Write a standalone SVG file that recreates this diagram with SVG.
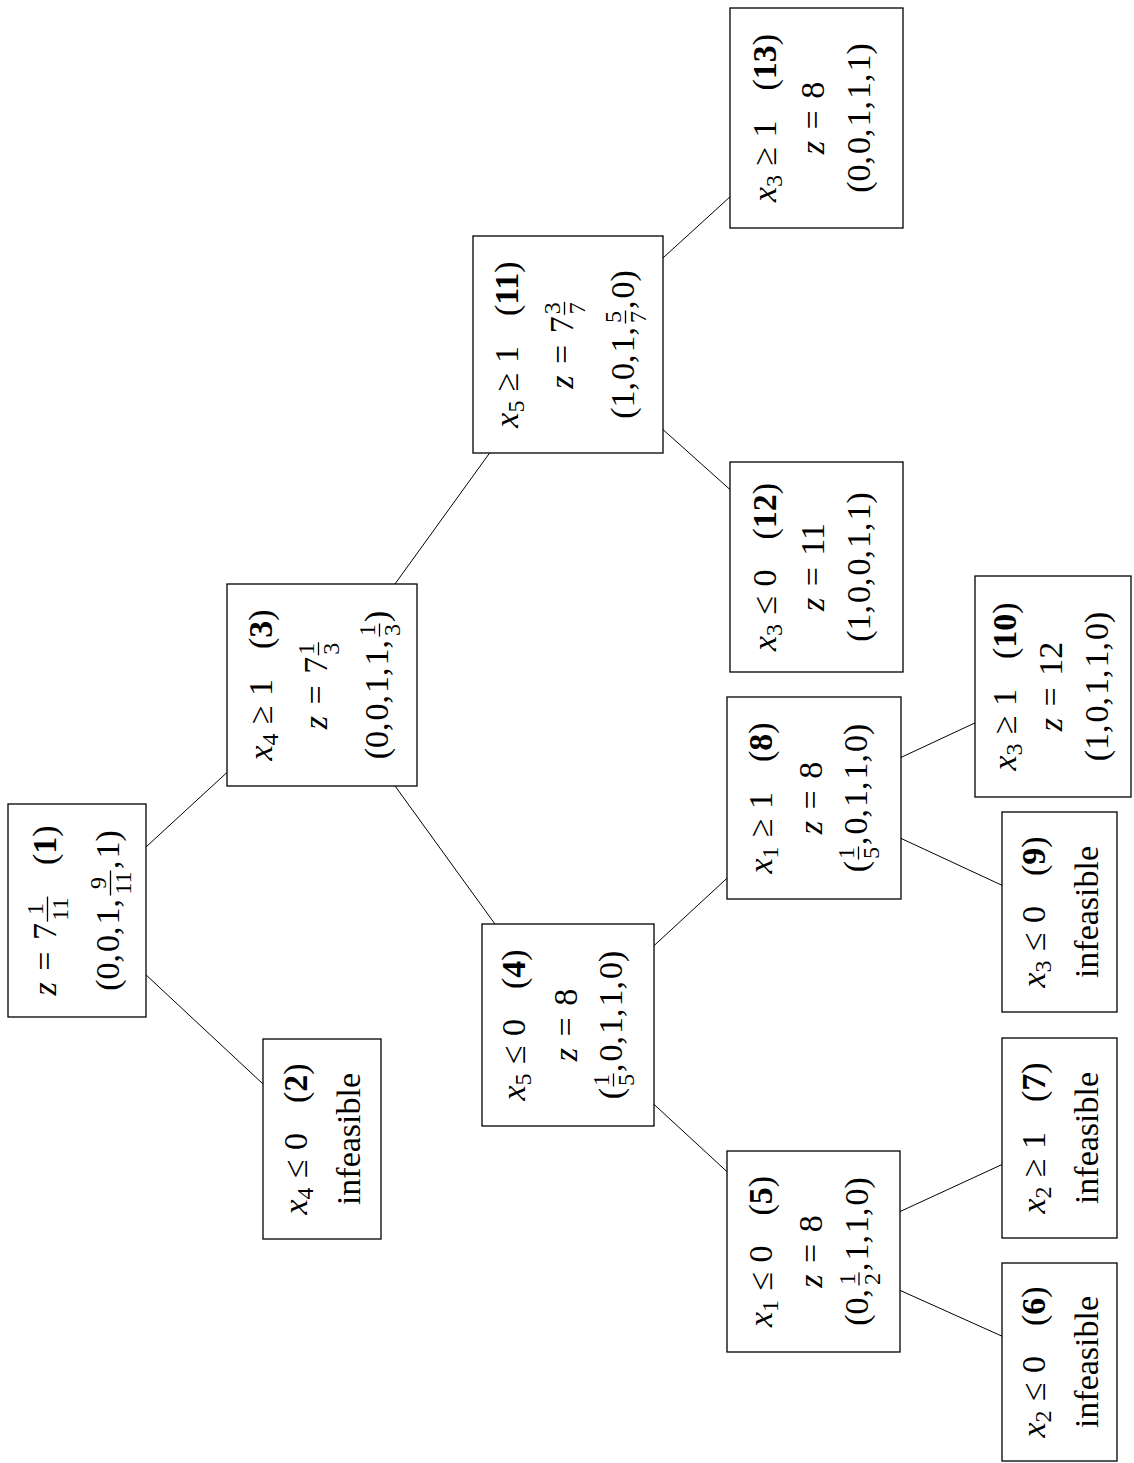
<svg xmlns="http://www.w3.org/2000/svg" width="1134" height="1463" viewBox="0 0 1134 1463">
<style>
.bx{fill:#fff;stroke:#000;stroke-width:1.3}
.cn line{stroke:#000;stroke-width:1}
.t{font-family:"Liberation Serif","Times New Roman",serif;font-size:34px;fill:#000}
.c{text-anchor:middle}
.i{font-style:italic}
.b{font-weight:bold}
.s{font-size:24px}
.fb{stroke:#000;stroke-width:1.3}
</style>
<rect width="1134" height="1463" fill="#fff"/>
<g id="connectors" class="cn">
<line x1="77" y1="910.5" x2="322" y2="1139"/>
<line x1="77" y1="910.5" x2="322" y2="685"/>
<line x1="322" y1="685" x2="568" y2="1025"/>
<line x1="322" y1="685" x2="568" y2="344.5"/>
<line x1="568" y1="1025" x2="813.5" y2="1251.5"/>
<line x1="568" y1="1025" x2="814" y2="798"/>
<line x1="813.5" y1="1251.5" x2="1059.5" y2="1362"/>
<line x1="813.5" y1="1251.5" x2="1059.5" y2="1138"/>
<line x1="814" y1="798" x2="1059.5" y2="912"/>
<line x1="814" y1="798" x2="1053" y2="686.5"/>
<line x1="568" y1="344.5" x2="816.5" y2="567"/>
<line x1="568" y1="344.5" x2="816.5" y2="118"/>
</g>

<g id="node1">
<rect class="bx" x="8" y="804" width="138" height="213"/>
<g transform="translate(77 910.5) rotate(-90)">
<text class="t" x="-85" y="-21"><tspan class="i">z</tspan><tspan dx="11.5">=</tspan><tspan dx="11.5">7</tspan></text>
<text class="t s c" x="1.4" y="-34">1</text><text class="t s c" x="1.4" y="-9">11</text>
<line class="fb" x1="-11.1" y1="-29.5" x2="13.9" y2="-29.5"/>
<text class="t" x="45.4" y="-21">(<tspan class="b">1</tspan>)</text>
<text class="t" x="-80.3" y="42">(0,<tspan dx="2">0,</tspan><tspan dx="2">1,</tspan></text>
<text class="t s c" x="27.5" y="29">9</text><text class="t s c" x="27.5" y="54">11</text>
<line class="fb" x1="15" y1="33.5" x2="40" y2="33.5"/>
<text class="t" x="41.5" y="42">,<tspan dx="2">1)</tspan></text>
</g>
</g>

<g id="node2">
<rect class="bx" x="263" y="1039" width="118" height="200"/>
<g transform="translate(322 1139) rotate(-90)">
<text class="t c" x="0" y="-15"><tspan class="i">x</tspan><tspan class="s" dy="6">4</tspan><tspan dx="9.4" dy="-6">≤</tspan><tspan dx="9.4">0</tspan><tspan dx="30">(</tspan><tspan class="b">2</tspan>)</text>
<text class="t c" x="0" y="38">infeasible</text>
</g>
</g>

<g id="node3">
<rect class="bx" x="227" y="584" width="190" height="202"/>
<g transform="translate(322 685) rotate(-90)">
<text class="t c" x="0" y="-50"><tspan class="i">x</tspan><tspan class="s" dy="6">4</tspan><tspan dx="9.4" dy="-6">≥</tspan><tspan dx="9.4">1</tspan><tspan dx="30">(</tspan><tspan class="b">3</tspan>)</text>
<text class="t" x="-44.2" y="5"><tspan class="i">z</tspan><tspan dx="11.5">=</tspan><tspan dx="11.5">7</tspan></text>
<text class="t s c" x="36.2" y="-8">1</text><text class="t s c" x="36.2" y="17">3</text>
<line class="fb" x1="29.7" y1="-3.5" x2="42.7" y2="-3.5"/>
<text class="t" x="-74.3" y="66">(0,<tspan dx="2">0,</tspan><tspan dx="2">1,</tspan><tspan dx="2">1,</tspan></text>
<text class="t s c" x="55" y="53">1</text><text class="t s c" x="55" y="78">3</text>
<line class="fb" x1="48.5" y1="57.5" x2="61.5" y2="57.5"/>
<text class="t" x="63" y="66">)</text>
</g>
</g>

<g id="node4">
<rect class="bx" x="482" y="924" width="172" height="202"/>
<g transform="translate(568 1025) rotate(-90)">
<text class="t c" x="0" y="-43"><tspan class="i">x</tspan><tspan class="s" dy="6">5</tspan><tspan dx="9.4" dy="-6">≤</tspan><tspan dx="9.4">0</tspan><tspan dx="30">(</tspan><tspan class="b">4</tspan>)</text>
<text class="t c" x="0" y="9"><tspan class="i">z</tspan><tspan dx="11.5">=</tspan><tspan dx="11.5">8</tspan></text>
<text class="t" x="-74.3" y="54">(</text>
<text class="t s c" x="-55" y="41">1</text><text class="t s c" x="-55" y="66">5</text>
<line class="fb" x1="-61.5" y1="45.5" x2="-48.5" y2="45.5"/>
<text class="t" x="-47" y="54">,<tspan dx="2">0,</tspan><tspan dx="2">1,</tspan><tspan dx="2">1,</tspan><tspan dx="2">0)</tspan></text>
</g>
</g>

<g id="node5">
<rect class="bx" x="727" y="1151" width="173" height="201"/>
<g transform="translate(813.5 1251.5) rotate(-90)">
<text class="t c" x="0" y="-42"><tspan class="i">x</tspan><tspan class="s" dy="6">1</tspan><tspan dx="9.4" dy="-6">≤</tspan><tspan dx="9.4">0</tspan><tspan dx="30">(</tspan><tspan class="b">5</tspan>)</text>
<text class="t c" x="0" y="8"><tspan class="i">z</tspan><tspan dx="11.5">=</tspan><tspan dx="11.5">8</tspan></text>
<text class="t" x="-74.3" y="54">(0,</text>
<text class="t s c" x="-27.5" y="41">1</text><text class="t s c" x="-27.5" y="66">2</text>
<line class="fb" x1="-34" y1="45.5" x2="-21" y2="45.5"/>
<text class="t" x="-19.5" y="54">,<tspan dx="2">1,</tspan><tspan dx="2">1,</tspan><tspan dx="2">0)</tspan></text>
</g>
</g>

<g id="node6">
<rect class="bx" x="1002" y="1263" width="115" height="198"/>
<g transform="translate(1059.5 1362) rotate(-90)">
<text class="t c" x="0" y="-15"><tspan class="i">x</tspan><tspan class="s" dy="6">2</tspan><tspan dx="9.4" dy="-6">≤</tspan><tspan dx="9.4">0</tspan><tspan dx="30">(</tspan><tspan class="b">6</tspan>)</text>
<text class="t c" x="0" y="38">infeasible</text>
</g>
</g>

<g id="node7">
<rect class="bx" x="1002" y="1038" width="115" height="200"/>
<g transform="translate(1059.5 1138) rotate(-90)">
<text class="t c" x="0" y="-15"><tspan class="i">x</tspan><tspan class="s" dy="6">2</tspan><tspan dx="9.4" dy="-6">≥</tspan><tspan dx="9.4">1</tspan><tspan dx="30">(</tspan><tspan class="b">7</tspan>)</text>
<text class="t c" x="0" y="38">infeasible</text>
</g>
</g>

<g id="node8">
<rect class="bx" x="727" y="697" width="174" height="202"/>
<g transform="translate(814 798) rotate(-90)">
<text class="t c" x="0" y="-42"><tspan class="i">x</tspan><tspan class="s" dy="6">1</tspan><tspan dx="9.4" dy="-6">≥</tspan><tspan dx="9.4">1</tspan><tspan dx="30">(</tspan><tspan class="b">8</tspan>)</text>
<text class="t c" x="0" y="8"><tspan class="i">z</tspan><tspan dx="11.5">=</tspan><tspan dx="11.5">8</tspan></text>
<text class="t" x="-74.3" y="53">(</text>
<text class="t s c" x="-55" y="40">1</text><text class="t s c" x="-55" y="65">5</text>
<line class="fb" x1="-61.5" y1="44.5" x2="-48.5" y2="44.5"/>
<text class="t" x="-47" y="53">,<tspan dx="2">0,</tspan><tspan dx="2">1,</tspan><tspan dx="2">1,</tspan><tspan dx="2">0)</tspan></text>
</g>
</g>

<g id="node9">
<rect class="bx" x="1002" y="812" width="115" height="200"/>
<g transform="translate(1059.5 912) rotate(-90)">
<text class="t c" x="0" y="-15"><tspan class="i">x</tspan><tspan class="s" dy="6">3</tspan><tspan dx="9.4" dy="-6">≤</tspan><tspan dx="9.4">0</tspan><tspan dx="30">(</tspan><tspan class="b">9</tspan>)</text>
<text class="t c" x="0" y="38">infeasible</text>
</g>
</g>

<g id="node10">
<rect class="bx" x="975" y="576" width="156" height="221"/>
<g transform="translate(1053 686.5) rotate(-90)">
<text class="t c" x="0" y="-37"><tspan class="i">x</tspan><tspan class="s" dy="6">3</tspan><tspan dx="9.4" dy="-6">≥</tspan><tspan dx="9.4">1</tspan><tspan dx="30">(</tspan><tspan class="b">10</tspan>)</text>
<text class="t c" x="0" y="9"><tspan class="i">z</tspan><tspan dx="11.5">=</tspan><tspan dx="11.5">12</tspan></text>
<text class="t c" x="0" y="55">(1,<tspan dx="2">0,</tspan><tspan dx="2">1,</tspan><tspan dx="2">1,</tspan><tspan dx="2">0)</tspan></text>
</g>
</g>

<g id="node11">
<rect class="bx" x="473" y="236" width="190" height="217"/>
<g transform="translate(568 344.5) rotate(-90)">
<text class="t c" x="0" y="-50"><tspan class="i">x</tspan><tspan class="s" dy="6">5</tspan><tspan dx="9.4" dy="-6">≥</tspan><tspan dx="9.4">1</tspan><tspan dx="30">(</tspan><tspan class="b">11</tspan>)</text>
<text class="t" x="-44.2" y="5"><tspan class="i">z</tspan><tspan dx="11.5">=</tspan><tspan dx="11.5">7</tspan></text>
<text class="t s c" x="36.2" y="-8">3</text><text class="t s c" x="36.2" y="17">7</text>
<line class="fb" x1="29.7" y1="-3.5" x2="42.7" y2="-3.5"/>
<text class="t" x="-74.3" y="66">(1,<tspan dx="2">0,</tspan><tspan dx="2">1,</tspan></text>
<text class="t s c" x="27.5" y="53">5</text><text class="t s c" x="27.5" y="78">7</text>
<line class="fb" x1="21" y1="57.5" x2="34" y2="57.5"/>
<text class="t" x="35.5" y="66">,<tspan dx="2">0)</tspan></text>
</g>
</g>

<g id="node12">
<rect class="bx" x="730" y="462" width="173" height="210"/>
<g transform="translate(816.5 567) rotate(-90)">
<text class="t c" x="0" y="-41"><tspan class="i">x</tspan><tspan class="s" dy="6">3</tspan><tspan dx="9.4" dy="-6">≤</tspan><tspan dx="9.4">0</tspan><tspan dx="30">(</tspan><tspan class="b">12</tspan>)</text>
<text class="t c" x="0" y="7"><tspan class="i">z</tspan><tspan dx="11.5">=</tspan><tspan dx="11.5">11</tspan></text>
<text class="t c" x="0" y="53">(1,<tspan dx="2">0,</tspan><tspan dx="2">0,</tspan><tspan dx="2">1,</tspan><tspan dx="2">1)</tspan></text>
</g>
</g>

<g id="node13">
<rect class="bx" x="730" y="8" width="173" height="220"/>
<g transform="translate(816.5 118) rotate(-90)">
<text class="t c" x="0" y="-41"><tspan class="i">x</tspan><tspan class="s" dy="6">3</tspan><tspan dx="9.4" dy="-6">≥</tspan><tspan dx="9.4">1</tspan><tspan dx="30">(</tspan><tspan class="b">13</tspan>)</text>
<text class="t c" x="0" y="7"><tspan class="i">z</tspan><tspan dx="11.5">=</tspan><tspan dx="11.5">8</tspan></text>
<text class="t c" x="0" y="53">(0,<tspan dx="2">0,</tspan><tspan dx="2">1,</tspan><tspan dx="2">1,</tspan><tspan dx="2">1)</tspan></text>
</g>
</g>
</svg>
